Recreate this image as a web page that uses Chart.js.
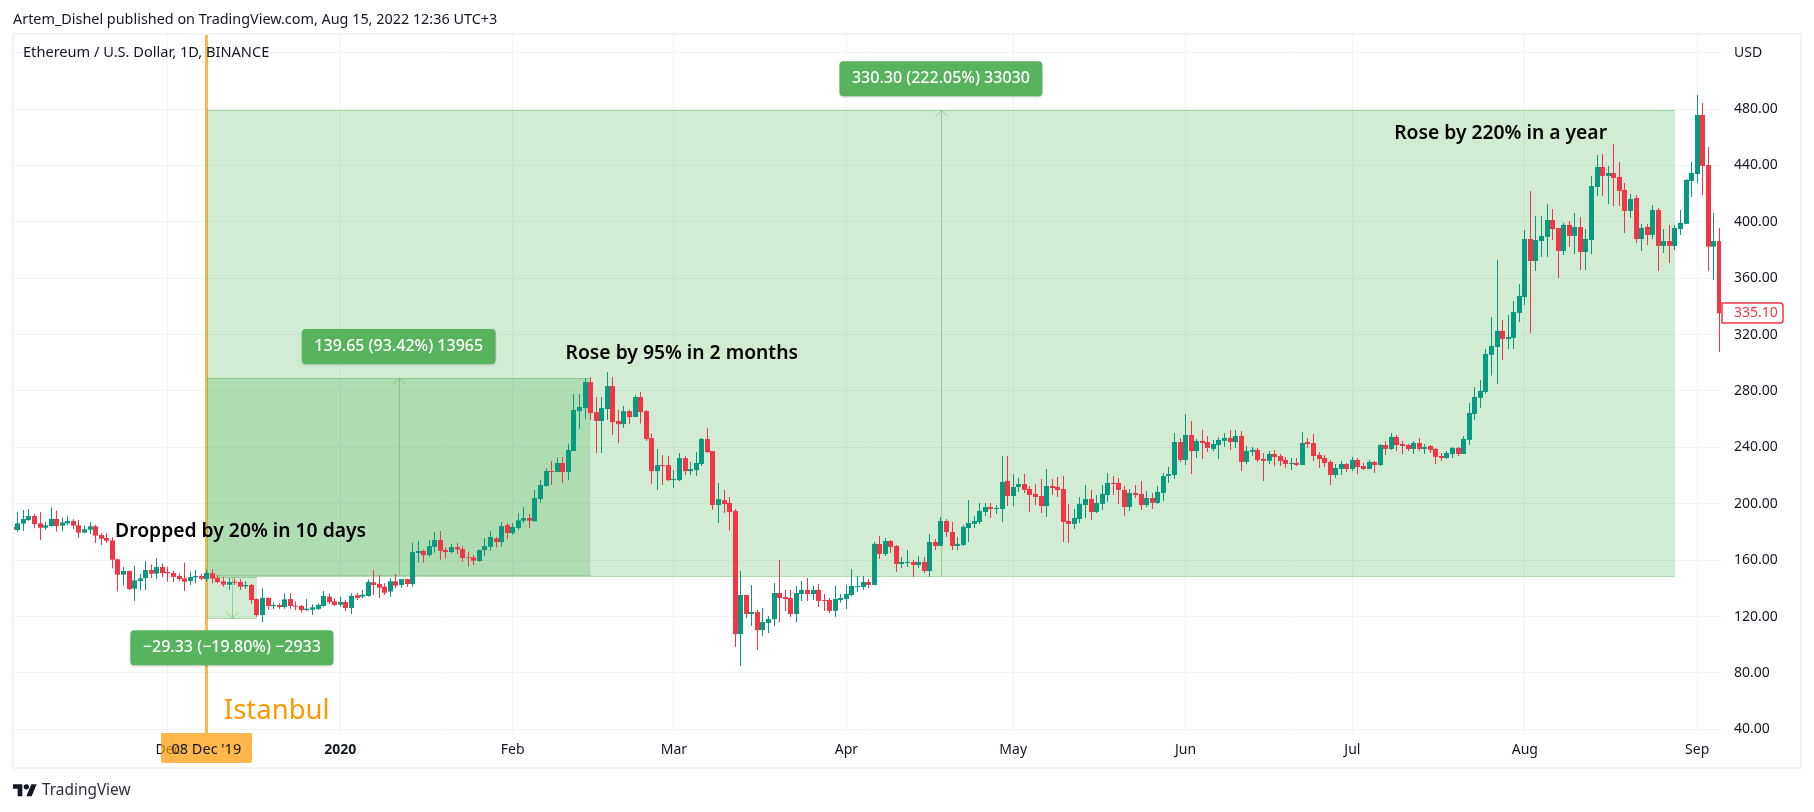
<!DOCTYPE html>
<html>
<head>
<meta charset="utf-8">
<title>ETHUSD</title>
<script src="https://cdn.jsdelivr.net/npm/chart.js@4"></script>
<style>
html,body{margin:0;padding:0;background:#fff;}
canvas{display:block;}
</style>
</head>
<body>
<canvas id="myChart" width="1814" height="812"></canvas>
<script>
// days are counted from 1 Jan 2020, the first candle is 3 Nov 2019
var firstDay = -59;

var opens = [
183.5,181.4,185.9,188.5,191.3,186.1,183.0,184.2,189.2,184.5,
186.1,187.8,184.7,179.5,181.6,184.0,177.8,175.7,174.0,160.6,
149.7,152.3,139.8,145.2,147.3,153.0,150.4,155.1,151.6,150.9,
148.8,147.1,145.2,147.8,148.8,146.6,150.7,147.3,145.0,142.6,
144.7,144.5,141.4,142.4,132.4,121.1,133.2,127.3,128.2,126.8,
132.4,127.7,127.5,124.6,124.9,125.4,127.5,134.1,130.8,128.4,
130.3,126.1,135.1,134.1,134.6,144.3,143.1,141.2,137.7,145.0,
142.4,146.6,143.1,165.0,166.5,163.6,169.5,174.3,167.2,165.8,
169.3,167.9,162.0,162.0,159.4,167.2,169.5,175.4,172.8,184.9,
179.2,182.8,188.0,189.9,187.7,203.3,212.6,223.2,222.5,228.9,
222.5,237.4,265.7,267.9,286.3,265.0,258.7,267.2,283.5,258.7,
256.5,265.7,261.5,275.7,265.7,246.6,223.2,227.4,227.4,216.8,
216.8,232.4,223.2,223.9,228.2,245.9,237.4,199.1,202.6,200.5,
194.8,107.6,135.3,121.8,123.2,110.4,115.4,118.2,136.7,133.8,
133.1,121.8,136.0,138.9,136.0,138.9,131.8,131.8,124.0,131.8,
132.5,135.3,141.0,141.0,144.5,142.4,171.5,164.4,173.6,170.1,
157.3,158.0,158.7,156.6,158.7,152.3,172.9,170.1,187.8,180.0,
170.1,170.8,182.8,185.7,187.1,194.2,197.7,196.3,196.3,216.2,
205.5,211.9,214.0,210.5,207.0,205.5,198.4,212.6,211.9,210.5,
187.8,185.7,189.2,199.1,203.4,194.2,199.9,206.2,214.8,214.8,
209.8,197.7,207.7,207.0,199.1,204.1,200.6,207.7,219.7,220.4,
243.8,231.1,248.8,237.4,244.6,243.8,238.9,241.7,244.6,246.7,
243.8,248.1,229.7,236.8,238.2,231.8,230.4,235.3,233.9,231.1,
228.2,229.0,227.5,243.8,243.1,234.6,232.5,229.7,220.4,224.7,
228.2,224.7,231.1,226.8,224.7,229.7,227.5,241.7,238.9,247.4,
242.4,241.7,238.9,243.1,238.9,241.0,238.9,233.9,232.5,235.3,
239.6,235.3,245.3,263.7,275.1,279.3,305.6,311.2,322.6,316.9,
317.6,335.4,346.7,387.8,372.2,386.4,389.3,401.3,395.6,379.3,
397.8,390.0,396.3,378.6,387.1,424.7,438.9,432.5,434.6,431.8,
422.6,407.7,416.9,387.8,396.3,390.7,408.4,382.9,386.4,382.9,
394.9,398.5,429.0,433.9,475.8,440.3,382.4,386.4];

var closes = [
181.6,186.1,189.2,191.3,185.6,183.0,184.7,189.2,184.2,186.8,
187.8,184.5,179.5,181.9,184.0,177.4,175.2,173.8,160.3,149.7,
152.3,139.5,145.7,147.1,153.0,150.4,155.1,150.9,150.7,148.1,
146.6,144.7,148.1,148.8,146.9,150.9,146.9,144.5,142.6,144.5,
144.0,141.2,142.4,131.7,121.1,133.2,127.5,128.2,126.8,132.2,
127.5,127.0,124.6,125.6,126.5,128.2,134.6,130.3,128.2,130.3,
126.1,134.6,133.2,135.5,144.5,142.4,140.5,136.9,145.0,141.9,
146.6,143.1,165.7,166.5,163.6,170.0,174.3,166.7,165.8,169.3,
167.6,161.5,161.5,159.6,167.2,170.0,176.4,172.8,184.2,179.2,
183.5,188.2,189.9,188.0,204.0,213.3,223.2,222.5,228.9,222.5,
238.1,266.5,268.6,286.3,264.3,258.7,267.9,283.5,257.9,256.5,
265.7,261.5,275.7,265.0,245.9,223.2,227.4,226.7,216.8,217.5,
232.4,223.2,224.6,228.9,245.9,236.7,199.1,203.3,199.8,194.1,
107.6,135.3,121.8,123.2,110.4,116.1,118.2,136.7,133.1,132.4,
121.8,136.7,138.9,136.0,138.9,131.1,131.1,124.0,132.5,133.2,
136.0,141.7,141.7,144.5,142.4,171.5,164.4,173.6,169.4,157.3,
158.7,158.7,156.6,158.7,152.3,172.9,170.1,187.8,180.0,170.1,
171.5,183.5,186.4,187.8,194.9,197.7,196.3,197.0,215.5,205.5,
211.9,214.0,209.8,206.2,204.8,198.4,212.6,211.2,209.8,187.1,
185.7,189.9,199.9,203.4,194.2,200.6,207.0,214.8,214.0,209.8,
197.7,207.7,206.2,199.1,204.1,200.6,208.4,219.7,221.1,243.8,
231.1,248.8,237.4,244.5,243.1,239.6,242.4,245.3,246.7,243.8,
248.1,229.7,237.5,238.2,231.1,230.4,235.3,233.2,230.4,228.2,
229.0,227.5,243.1,242.4,233.9,231.8,229.0,220.4,225.4,228.2,
224.7,231.1,226.1,224.7,229.7,227.5,241.7,238.9,247.4,241.7,
241.0,238.9,243.1,238.9,240.3,238.2,233.2,232.5,236.0,239.6,
235.3,246.0,264.4,275.8,280.0,306.3,311.9,322.6,316.9,318.3,
336.0,347.4,387.8,372.2,387.1,390.0,401.3,394.9,379.3,397.8,
390.0,396.3,378.6,387.8,425.4,438.9,432.5,434.6,431.1,421.9,
407.7,416.2,387.8,395.6,390.7,408.4,382.9,386.4,382.9,395.6,
399.2,429.7,434.6,475.8,439.6,382.4,386.4,335.1];

var highs = [
184,194.4,195.6,196.3,192.7,193.9,187.3,197.5,195.1,190.1,
191.1,189,188.5,184.7,187.1,185.2,179,179,176.2,161,
155.1,152.5,156.1,150.2,159.2,157,161.3,157.7,155.4,152.5,
150.7,158.4,151.8,153,150.4,153.5,153.7,149.5,148.3,147.3,
147.1,146.6,145,143.1,132.9,140,133.6,129.9,129.4,136.5,
136.5,130.6,128.2,132.4,128.7,129.4,138.1,136.2,132.9,134.1,
131.7,136.5,136.5,138.8,146.4,153,149.5,143.6,147.1,150.2,
146.6,146.8,172.4,173.5,167.6,174.3,179.9,180.6,169,171.4,
172.1,170,165.8,163.6,167.6,175.7,180.6,176.6,187,186.3,
186.1,193.4,197.7,192.7,209.7,216.8,225.1,230.3,232.9,233.1,
242.8,277.8,277.8,289.1,289.9,275.7,275.7,293.4,289.9,266.5,
269.3,266.9,277.1,279.2,266.5,249.9,238.8,234.5,233.8,223.9,
236,233.8,229.6,236.7,246.6,253.7,237.4,214.7,209.7,204.8,
196.2,152.3,135.3,142.3,124.6,126,120.4,143.8,160.1,138.8,
138.8,141.6,145.2,147.4,141.7,143.1,136,133.2,141.7,136,
142.4,153.8,148.8,148.8,146.7,172.9,177.2,175.7,174.3,170.8,
162.3,167.2,160.1,163,162.3,178.6,175,190.6,189.2,187.1,
176.5,185,202.7,191.3,200.6,200.6,200.6,199.1,233.9,233.9,
221.1,218.3,221.1,212.6,214,217.6,224.7,217.6,219,219.7,
199.9,196.3,204.8,213.3,209.8,206.2,213.3,221.8,219.7,218.3,
212.6,210.5,213.3,216.2,209.1,207.7,212.6,221.8,226.1,250.2,
246.7,263.7,258.7,246,252.4,248.1,245.3,247.4,250.2,252.4,
252.4,251.6,241,240.3,239.6,236,237.5,238.2,235.3,233.2,
232.5,232.5,250.9,246.7,249.5,236.8,234.6,231.1,228.2,230.4,
229,233.2,232.5,229,231.1,230.4,242.4,244.6,250.2,248.8,
244.6,242.4,244.6,246.7,242.4,241.7,239.6,236,237.5,240.3,
240.3,248.1,271.5,282.9,287.8,309.8,332.5,373,330.4,333.9,
343.9,355.9,394.2,421.9,404.1,404.1,412.7,409.1,395.6,399.2,
400.6,406.3,403.4,394.9,432.5,447.4,448.1,439.6,455.2,442.4,
427.6,419.8,419,398.5,398.5,411.9,409.8,394.9,397.8,397.8,
408.4,430.4,442.4,490,484.3,453.1,406.3,395.6];

var lows = [
181,180.2,180.7,187.8,182.6,174.3,181.4,183.8,180.2,180.7,
184.5,182.1,175.9,179,178.6,172.2,170.7,172.4,154.2,137.7,
141.9,138.8,131,138.8,138.8,147.1,146.6,147.8,144.7,144.5,
145,138.1,142.4,143.6,145.9,144.7,143.6,143.6,141.2,138.8,
142.4,138.8,139.5,128.9,119.9,116.1,124.6,125.4,125.6,125.6,
125.6,124.6,122.8,123.9,121.1,124.6,127,128.9,127.5,127,
123.9,121.8,131.7,132.9,134.1,135.3,133.2,135.3,134.1,140,
140.5,141.2,141.2,158.2,158.2,162.4,165.3,160.1,161.2,164.8,
164.3,158.9,155.3,156.5,158.9,162.9,166.7,169,169.5,175,
177.8,181.4,186.1,182.8,187.3,200.7,212.1,213.3,222.5,214.7,
216.8,237.4,253,260.1,259.4,236,236,259.4,248.7,243.1,
253.7,256.5,261.5,257,244.5,214,209.7,213.3,216.1,211.1,
216.1,220.4,220.4,219.7,226.7,236,195.5,186.3,193.4,181.3,
98.4,84.9,118.9,113.3,96.2,106.2,108.3,113.3,116.1,123.9,
119.7,116.1,131.1,131.1,131.8,126.8,124,122.6,119.7,129.7,
125.4,134.6,137.5,138.9,140.3,142.4,160.8,163,165.1,151.6,
154.5,155.2,148.1,154.5,150.9,148.1,167.2,170.1,176.5,167.2,
167.2,170.1,172.9,182.8,185.7,191.3,189.9,192.8,187.1,198.4,
198.4,208.4,207.7,194.2,199.1,193.5,190.6,206.2,204.8,172.9,
172.2,182.1,186.4,189.9,188.5,193.5,195.6,201.3,206.2,199.9,
191.3,194.9,204.1,195.6,197.7,196.3,199.9,202,214.8,217.6,
229.6,227.5,221.1,232.5,231.8,236.8,237.5,231.8,240.3,238.2,
239.6,223.3,228.2,233.9,229.7,216.2,228.2,226.8,226.8,225.4,
224,226.8,227.5,239.6,230.4,225.4,226.1,213.3,218.3,220.4,
222.6,223.3,221.2,224,224.7,221.9,226.8,234.6,238.2,237.5,
235.3,237.5,235.3,237.5,235.3,236,228.2,230.4,231.8,232.5,
233.9,235.3,241.7,259.4,268,278,291,285,302,309.8,
309.8,329,341,321.2,365.1,375.1,375.1,387.1,360.2,376.5,
382.2,377.2,365.9,365.9,377.2,418.3,418.3,412.7,411.2,411.2,
392.1,402.7,385,379.3,383.6,387.8,365.1,377.9,370.8,380,
390.7,398.5,417.6,427.6,419,365.1,358.8,307.7];

// axis ticks
var monthDays = [-31,0,31,60,91,121,152,182,213,244];
var monthLabels = ["Dec","2020","Feb","Mar","Apr","May","Jun","Jul","Aug","Sep"];
var priceTicks = [40,80,120,160,200,240,280,320,360,400,440,480,520];

// price range tools
var rangeStart = [-24,-24,-24];
var rangeEnd = [240,45,-15];
var rangeBase = [148.75,149.49,148.13];
var rangeTop = [479.05,289.14,118.8];
var rangeLabels = ["330.30 (222.05%) 33030","139.65 (93.42%) 13965","\u221229.33 (\u221219.80%) \u22122933"];

// text notes, left edge and middle of the line
var noteTexts = ["Dropped by 20% in 10 days","Rose by 95% in 2 months","Rose by 220% in a year"];
var noteDays = [-40.5,40.5,189.5];
var notePrices = [180.2,306.6,462.7];

var sessionDay = -24;
var sessionDate = "08 Dec '19";
var sessionName = "Istanbul";
var lastPrice = 335.10;

var GREEN = "#089981", RED = "#f23645", GRID = "#f0f3fa", INK = "#131722";
var ORANGE = "rgba(255,152,0,0.7)";
var FONT = '"Noto Sans"';

var wicks = [], bodies = [], colors = [];
for (var i = 0; i < opens.length; i++){
    wicks.push({x: firstDay + i, y: [lows[i], highs[i]]});
    bodies.push({x: firstDay + i, y: [opens[i], closes[i]]});
    colors.push(closes[i] >= opens[i] ? GREEN : RED);
}

function roundBox(ctx, x, y, w, h, r){
    ctx.beginPath();
    ctx.roundRect(x, y, w, h, r);
}

// fills and arrows go under the candles
var underPlugin = {
    id: "under",
    afterDatasetsUpdate: function(chart){
        // snap candles to whole pixels so the wicks stay crisp
        chart.getSortedVisibleDatasetMetas().forEach(function(meta){
            meta.data.forEach(function(el){ el.x = Math.floor(el.x) + 0.5; });
        });
    },
    beforeDatasetsDraw: function(chart){
        var ctx = chart.ctx, sx = chart.scales.x, sy = chart.scales.y;
        ctx.save();
        // session line
        var xs = Math.round(sx.getPixelForValue(sessionDay));
        ctx.fillStyle = ORANGE;
        ctx.fillRect(xs - 2, chart.chartArea.top, 3, chart.chartArea.bottom - chart.chartArea.top);
        for (var i = 0; i < rangeStart.length; i++){
            var x1 = sx.getPixelForValue(rangeStart[i]), x2 = sx.getPixelForValue(rangeEnd[i]);
            var yb = sy.getPixelForValue(rangeBase[i]), yt = sy.getPixelForValue(rangeTop[i]);
            ctx.fillStyle = "rgba(76,175,80,0.25)";
            ctx.fillRect(x1, Math.min(yb, yt), x2 - x1, Math.abs(yb - yt));
            ctx.strokeStyle = "rgba(76,175,80,0.45)";
            ctx.lineWidth = 1;
            ctx.beginPath();
            ctx.moveTo(x1, Math.round(yt) + 0.5); ctx.lineTo(x2, Math.round(yt) + 0.5);
            ctx.moveTo(x1, Math.round(yb) + 0.5); ctx.lineTo(x2, Math.round(yb) + 0.5);
            var xm = Math.round((x1 + x2) / 2) + 0.5, dir = yt < yb ? 1 : -1;
            ctx.moveTo(xm, yb); ctx.lineTo(xm, yt);
            ctx.moveTo(xm - 6, yt + dir * 6); ctx.lineTo(xm, yt); ctx.lineTo(xm + 6, yt + dir * 6);
            ctx.stroke();
        }
        ctx.restore();
    },
    afterDatasetsDraw: function(chart){
        var ctx = chart.ctx, sx = chart.scales.x, sy = chart.scales.y, area = chart.chartArea;
        ctx.save();
        ctx.textBaseline = "middle";

        // labels of the price ranges
        ctx.font = "500 16px " + FONT;
        ctx.textAlign = "center";
        for (var i = 0; i < rangeLabels.length; i++){
            var xm = sx.getPixelForValue((rangeStart[i] + rangeEnd[i]) / 2);
            var yt = sy.getPixelForValue(rangeTop[i]);
            var up = rangeTop[i] > rangeBase[i];
            var w = ctx.measureText(rangeLabels[i]).width + 25, h = 35;
            var yy = up ? yt - 14 - h : yt + 12;
            ctx.shadowColor = "rgba(0,0,0,0.2)";
            ctx.shadowBlur = 2;
            ctx.shadowOffsetY = 1;
            ctx.fillStyle = "#58b35f";
            roundBox(ctx, xm - w / 2, yy, w, h, 4);
            ctx.fill();
            ctx.shadowColor = "transparent";
            ctx.fillStyle = "#ffffff";
            ctx.fillText(rangeLabels[i], xm, yy + h / 2);
        }

        // notes
        ctx.textAlign = "left";
        ctx.font = "600 19.3px " + FONT;
        ctx.fillStyle = "#000000";
        for (var j = 0; j < noteTexts.length; j++){
            ctx.fillText(noteTexts[j], sx.getPixelForValue(noteDays[j]), sy.getPixelForValue(notePrices[j]));
        }
        var xs = sx.getPixelForValue(sessionDay);
        ctx.font = "27.5px " + FONT;
        ctx.fillStyle = "#ff9800";
        ctx.fillText(sessionName, xs + 17, area.bottom - 22);

        // 40.00 is cut by the time axis
        ctx.fillStyle = "#ffffff";
        ctx.fillRect(area.right + 1, area.bottom, chart.width - area.right - 16, 32);

        // date tag on the time axis
        ctx.fillStyle = ORANGE;
        roundBox(ctx, Math.round(xs) - 46, area.bottom, 91, 30, [0, 0, 2, 2]);
        ctx.fill();
        ctx.fillStyle = INK;
        ctx.textAlign = "center";
        ctx.font = "14.5px " + FONT;
        ctx.fillText(sessionDate, xs - 0.5, area.bottom + 17);

        // last price tag
        var yl = sy.getPixelForValue(lastPrice);
        ctx.fillStyle = "#ffffff";
        ctx.strokeStyle = RED;
        ctx.lineWidth = 1.5;
        roundBox(ctx, area.right + 1, Math.round(yl) - 10, 61, 20, [0, 3, 3, 0]);
        ctx.fill();
        ctx.stroke();
        ctx.fillStyle = RED;
        ctx.textAlign = "left";
        ctx.font = "14px " + FONT;
        ctx.fillText(lastPrice.toFixed(2), area.right + 13, yl);

        // legend line of the chart
        ctx.fillStyle = INK;
        ctx.font = "14.6px " + FONT;
        ctx.fillText("Ethereum / U.S. Dollar, 1D, BINANCE", area.left + 9, 53);
        ctx.restore();
    },
    afterDraw: function(chart){
        var ctx = chart.ctx;
        ctx.save();
        // frame
        ctx.strokeStyle = GRID;
        ctx.lineWidth = 2;
        ctx.strokeRect(13, 34, 1788, 734);
        // header
        ctx.fillStyle = INK;
        ctx.font = "14.4px " + FONT;
        ctx.textBaseline = "middle";
        ctx.textAlign = "left";
        ctx.fillText("Artem_Dishel published on TradingView.com, Aug 15, 2022 12:36 UTC+3", 13, 20);
        // logo
        ctx.translate(13, 781.5);
        ctx.scale(0.667, 0.667);
        ctx.fill(new Path2D("M14 22H7V11H0V4h14v18zM28 22h-8l7.5-18h8L28 22z"));
        ctx.beginPath();
        ctx.arc(20, 8, 4, 0, Math.PI * 2);
        ctx.fill();
        ctx.setTransform(1, 0, 0, 1, 0, 0);
        ctx.font = "15.4px " + FONT;
        ctx.fillStyle = "#2a2e39";
        ctx.fillText("TradingView", 42, 791);
        ctx.restore();
    }
};

var ctx = document.getElementById("myChart").getContext("2d");
var myChart = new Chart(ctx, {
    type: "bar",
    data: {
        datasets: [
            {data: wicks, backgroundColor: colors, barThickness: 1, grouped: false, inflateAmount: 0},
            {data: bodies, backgroundColor: colors, barThickness: 5, grouped: false, inflateAmount: 0}
        ]
    },
    plugins: [underPlugin],
    options: {
        responsive: false,
        animation: false,
        devicePixelRatio: 1,
        events: [],
        layout: {padding: {left: 14, top: 35, right: 14, bottom: 45}},
        plugins: {legend: {display: false}, tooltip: {enabled: false}},
        scales: {
            x: {
                type: "linear",
                offset: false,
                min: -58.68,
                max: 248.28,
                border: {display: false},
                grid: {color: GRID, offset: false, drawTicks: false},
                afterBuildTicks: function(axis){
                    axis.ticks = monthDays.map(function(d){ return {value: d}; });
                },
                afterFit: function(axis){ axis.height = 34; },
                ticks: {
                    autoSkip: false,
                    maxRotation: 0,
                    padding: 9,
                    color: INK,
                    font: function(c){
                        return c.tick && c.tick.value === 0 ? {family: FONT, size: 14, weight: "bold"} : {family: FONT, size: 14};
                    },
                    callback: function(v){ return monthLabels[monthDays.indexOf(v)]; }
                }
            },
            y: {
                position: "right",
                min: 37.4,
                max: 532.5,
                border: {display: false},
                grid: {color: GRID, drawTicks: false},
                afterBuildTicks: function(axis){
                    axis.ticks = priceTicks.map(function(p){ return {value: p}; });
                },
                afterFit: function(axis){ axis.width = 79; },
                ticks: {
                    padding: 13,
                    color: INK,
                    font: {family: FONT, size: 14},
                    callback: function(v){ return v === 520 ? "USD" : v.toFixed(2); }
                }
            }
        }
    }
});
</script>
</body>
</html>
